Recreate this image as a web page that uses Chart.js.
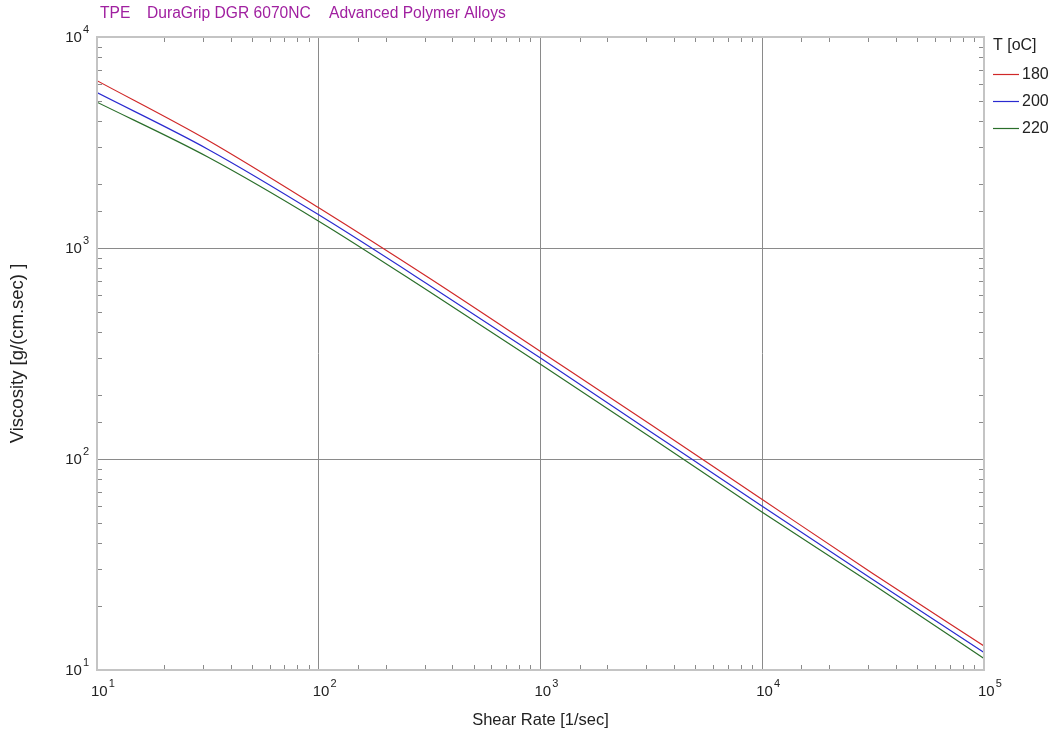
<!DOCTYPE html>
<html>
<head>
<meta charset="utf-8">
<script src="https://cdn.jsdelivr.net/npm/chart.js@4/dist/chart.umd.min.js"></script>
<style>
    html, body { margin: 0; padding: 0; background: #fff; }
    #wrap { width: 1058px; height: 740px; }
</style>
</head>
<body>
<div id="wrap"><canvas id="chart"></canvas></div>
<script>
const shearRates = [10, 31.6, 100, 316, 1000, 3162, 10000, 31623, 100000];
const visc180 = [6210, 3240, 1550, 718, 323, 145, 64.3, 28.6, 13.0];
const visc200 = [5450, 2940, 1436, 665, 301, 134, 59.7, 26.8, 12.1];
const visc220 = [4910, 2700, 1340, 620, 281, 126, 56.0, 25.4, 11.35];
const seriesNames = ['180', '200', '220'];
const seriesColors = ['#d02828', '#2a2ad0', '#2a6e2a'];

const titleParts = [['TPE', 100], ['DuraGrip DGR 6070NC', 147], ['Advanced Polymer Alloys', 329]];
const legendTitle = 'T [oC]';
const FONT = '"Liberation Sans", Arial, sans-serif';

const isDecade = (v) => Math.abs(Math.log10(v) - Math.round(Math.log10(v))) < 1e-9;
const toPoints = (vals) => shearRates.map((x, i) => ({ x, y: vals[i] }));

// draws "10" with a raised exponent
function powerLabel(ctx, exp, x, y, align) {
    ctx.font = '15px ' + FONT;
    const base = ctx.measureText('10').width;
    ctx.font = '11px ' + FONT;
    const sup = ctx.measureText(String(exp)).width;
    const left = align === 'right' ? x - base - sup - 1 : x;
    ctx.font = '15px ' + FONT;
    ctx.fillText('10', left, y);
    ctx.font = '11px ' + FONT;
    ctx.fillText(String(exp), left + base + 1, y - 8);
}

// frame, inner minor ticks, tick labels, header text, legend
const framePlugin = {
    id: 'frame',
    afterDatasetsDraw(chart) {
        const { ctx, chartArea: a, scales } = chart;
        ctx.save();
        ctx.strokeStyle = '#8a8a8a';
        ctx.lineWidth = 1;
        ctx.beginPath();
        scales.x.ticks.forEach((t) => {
            if (isDecade(t.value)) return;
            const px = Math.round(scales.x.getPixelForValue(t.value)) + 0.5;
            ctx.moveTo(px, a.bottom);
            ctx.lineTo(px, a.bottom - 5);
            ctx.moveTo(px, a.top);
            ctx.lineTo(px, a.top + 5);
        });
        scales.y.ticks.forEach((t) => {
            if (isDecade(t.value)) return;
            const py = Math.round(scales.y.getPixelForValue(t.value)) + 0.5;
            ctx.moveTo(a.left, py);
            ctx.lineTo(a.left + 5, py);
            ctx.moveTo(a.right, py);
            ctx.lineTo(a.right - 5, py);
        });
        ctx.stroke();
        ctx.strokeStyle = '#c4c4c4';
        ctx.lineWidth = 2;
        ctx.strokeRect(a.left, a.top, a.right - a.left, a.bottom - a.top);
        ctx.restore();
    },
    afterDraw(chart) {
        const { ctx, chartArea: a, scales } = chart;
        ctx.save();
        ctx.fillStyle = '#222';
        ctx.textAlign = 'left';
        ctx.textBaseline = 'middle';
        scales.x.ticks.filter((t) => isDecade(t.value)).forEach((t) => {
            const px = scales.x.getPixelForValue(t.value);
            powerLabel(ctx, Math.round(Math.log10(t.value)), px - 6, a.bottom + 22, 'left');
        });
        scales.y.ticks.filter((t) => isDecade(t.value)).forEach((t) => {
            const py = scales.y.getPixelForValue(t.value);
            powerLabel(ctx, Math.round(Math.log10(t.value)), 89, py + 1, 'right');
        });

        // legend
        const lx = a.right + 9;
        ctx.font = '16px ' + FONT;
        ctx.fillText(legendTitle, lx, 46);
        chart.data.datasets.forEach((ds, i) => {
            const ly = 74 + i * 27;
            ctx.strokeStyle = ds.borderColor;
            ctx.lineWidth = 1.2;
            ctx.beginPath();
            ctx.moveTo(lx, ly + 0.5);
            ctx.lineTo(lx + 26, ly + 0.5);
            ctx.stroke();
            ctx.fillStyle = '#222';
            ctx.fillText(ds.label, lx + 29, ly + 1);
        });

        ctx.fillStyle = '#a020a0';
        ctx.font = '15.6px ' + FONT;
        titleParts.forEach(([text, x]) => ctx.fillText(text, x, 14));
        ctx.restore();
    },
};

new Chart(document.getElementById('chart'), {
    type: 'line',
    data: {
        datasets: [visc180, visc200, visc220].map((vals, i) => ({
            label: seriesNames[i],
            data: toPoints(vals),
            borderColor: seriesColors[i],
            backgroundColor: seriesColors[i],
            borderWidth: 1.2,
            pointRadius: 0,
            cubicInterpolationMode: 'monotone',
            fill: false,
        })),
    },
    options: {
        responsive: true,
        maintainAspectRatio: false,
        animation: false,
        layout: { padding: { top: 37, left: 0, right: 74, bottom: 0 } },
        plugins: {
            tooltip: { enabled: false },
            legend: { display: false },
        },
        scales: {
            x: {
                type: 'logarithmic',
                min: 10,
                max: 100000,
                afterFit: (s) => { s.height = 70; },
                border: { display: false },
                grid: {
                    drawTicks: false,
                    color: (c) => (c.tick && isDecade(c.tick.value) ? '#8a8a8a' : 'transparent'),
                },
                ticks: { autoSkip: false, display: false },
                title: {
                    display: true,
                    text: 'Shear Rate [1/sec]',
                    color: '#222',
                    font: { family: FONT, size: 16.5 },
                    padding: { top: 0, bottom: 10 },
                },
            },
            y: {
                type: 'logarithmic',
                min: 10,
                max: 10000,
                afterFit: (s) => { s.width = 97; },
                border: { display: false },
                grid: {
                    drawTicks: false,
                    color: (c) => (c.tick && isDecade(c.tick.value) ? '#8a8a8a' : 'transparent'),
                },
                ticks: { autoSkip: false, display: false },
                title: {
                    display: true,
                    text: 'Viscosity [g/(cm.sec) ]',
                    color: '#222',
                    font: { family: FONT, size: 18.5 },
                    padding: { top: 7, bottom: 0 },
                },
            },
        },
    },
    plugins: [framePlugin],
});
</script>
</body>
</html>
